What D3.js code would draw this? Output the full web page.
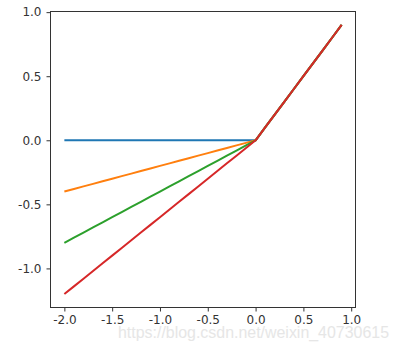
<!DOCTYPE html>
<html><head><meta charset="utf-8">
<script src="https://cdn.jsdelivr.net/npm/d3@7"></script>
<style>body{margin:0;background:#fff;}svg{display:block;}</style>
</head><body>
<script>
// data: x = -2.0 .. 0.9 step 0.1 ; leaky relu with alphas
const xValues = [-2.0,-1.9,-1.8,-1.7,-1.6,-1.5,-1.4,-1.3,-1.2,-1.1,-1.0,-0.9,-0.8,-0.7,-0.6,-0.5,-0.4,-0.3,-0.2,-0.1,0.0,0.1,0.2,0.3,0.4,0.5,0.6,0.7,0.8,0.9];
const seriesBlue   = [0,0,0,0,0,0,0,0,0,0,0,0,0,0,0,0,0,0,0,0,0,0.1,0.2,0.3,0.4,0.5,0.6,0.7,0.8,0.9];
const seriesOrange = [-0.4,-0.38,-0.36,-0.34,-0.32,-0.3,-0.28,-0.26,-0.24,-0.22,-0.2,-0.18,-0.16,-0.14,-0.12,-0.1,-0.08,-0.06,-0.04,-0.02,0,0.1,0.2,0.3,0.4,0.5,0.6,0.7,0.8,0.9];
const seriesGreen  = [-0.8,-0.76,-0.72,-0.68,-0.64,-0.6,-0.56,-0.52,-0.48,-0.44,-0.4,-0.36,-0.32,-0.28,-0.24,-0.2,-0.16,-0.12,-0.08,-0.04,0,0.1,0.2,0.3,0.4,0.5,0.6,0.7,0.8,0.9];
const seriesRed    = [-1.2,-1.14,-1.08,-1.02,-0.96,-0.9,-0.84,-0.78,-0.72,-0.66,-0.6,-0.54,-0.48,-0.42,-0.36,-0.3,-0.24,-0.18,-0.12,-0.06,0,0.1,0.2,0.3,0.4,0.5,0.6,0.7,0.8,0.9];
const seriesList = [seriesBlue, seriesOrange, seriesGreen, seriesRed];
const colors = ["#1f77b4","#ff7f0e","#2ca02c","#d62728"];
const xTicks = [-2.0,-1.5,-1.0,-0.5,0.0,0.5,1.0];
const yTicks = [-1.0,-0.5,0.0,0.5,1.0];
const watermark = "https://blog.csdn.net/weixin_40730615";

const W = 399, H = 351;
const L = 50.5, R = 355.5, T = 11.5, B = 307.5;
const svg = d3.select("body").append("svg").attr("width", W).attr("height", H);

const x = d3.scaleLinear().domain([-2.145, 1.045]).range([L, R]);
const y = d3.scaleLinear().domain([-1.305, 1.005]).range([B, T]);

const line = d3.line().x((d,i)=>x(xValues[i])).y(d=>y(d));
seriesList.forEach((s,k)=>{
  svg.append("path").datum(s).attr("d", line)
    .attr("fill","none").attr("stroke",colors[k]).attr("stroke-width",2)
    .attr("stroke-linejoin","round").attr("stroke-linecap","butt");
});

const fmt = d3.format(".1f");
const xAxis = d3.axisBottom(x).tickValues(xTicks).tickFormat(d=>fmt(d).replace("−","-")).tickSize(4).tickPadding(4);
const yAxis = d3.axisLeft(y).tickValues(yTicks).tickFormat(d=>fmt(d).replace("−","-")).tickSize(4).tickPadding(5);

const gx = svg.append("g").attr("transform",`translate(0,${B})`).call(xAxis);
const gy = svg.append("g").attr("transform",`translate(${L},0)`).call(yAxis);
[gx,gy].forEach(g=>{
  g.select(".domain").remove();
  g.selectAll("line").attr("stroke","#333");
  g.selectAll("text").attr("fill","#333").style("font-family","DejaVu Sans").style("font-size","12px");
});

svg.append("rect").attr("x",L).attr("y",T).attr("width",R-L).attr("height",B-T)
  .attr("fill","none").attr("stroke","#333").attr("stroke-width",1);

svg.append("text").attr("x",118).attr("y",338).text(watermark)
  .attr("textLength",271).attr("lengthAdjust","spacingAndGlyphs")
  .style("font-family","Liberation Sans, Arial").style("font-size","16px")
  .attr("fill","#e4e4e4").attr("opacity",0.9);
</script>
</body></html>
